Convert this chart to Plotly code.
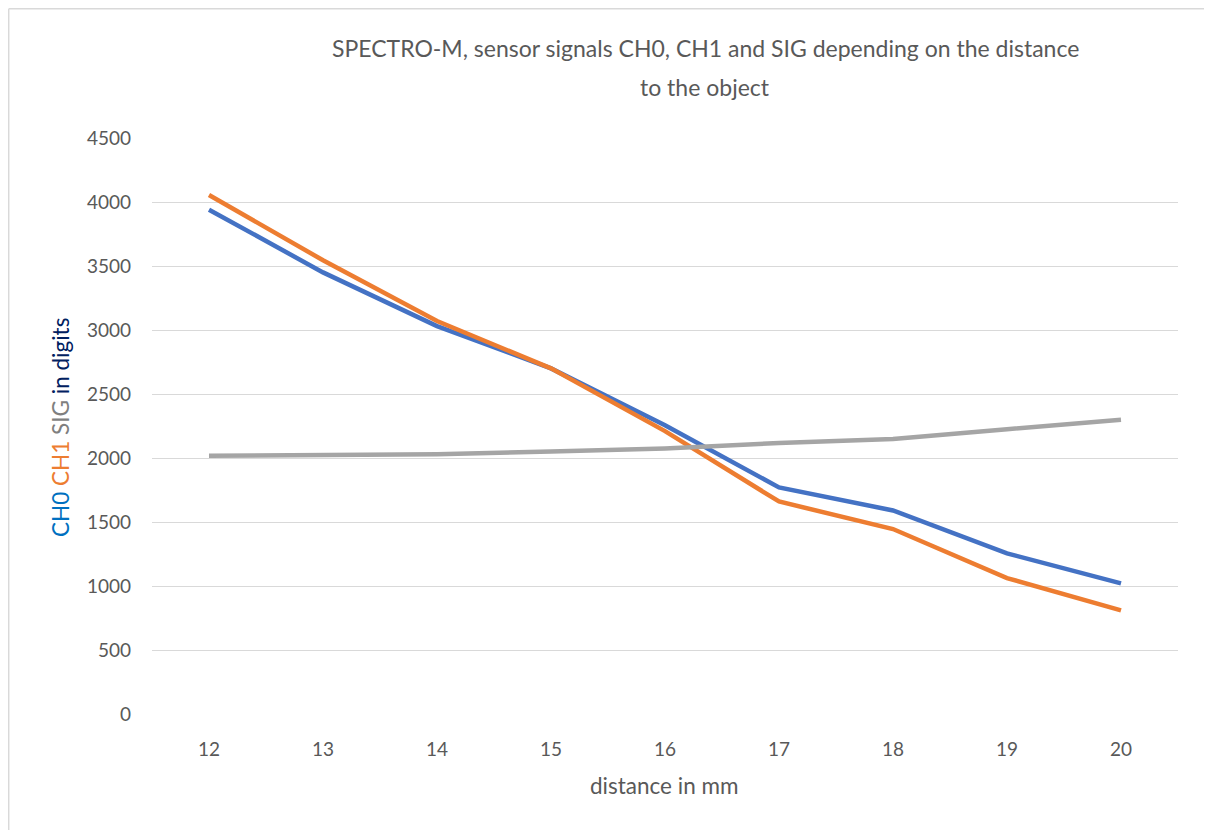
import plotly.graph_objects as go

distance = ["12", "13", "14", "15", "16", "17", "18", "19", "20"]
ch0 = [3940, 3450, 3030, 2700, 2255, 1770, 1590, 1255, 1020]
ch1 = [4055, 3545, 3070, 2700, 2210, 1660, 1445, 1062, 810]
sig = [2018, 2020, 2030, 2050, 2075, 2117, 2148, 2225, 2298]
y_ticks = [0, 500, 1000, 1500, 2000, 2500, 3000, 3500, 4000, 4500]

FONT = "Lato"
OFF = 8  # page body margin
W, H = 1212 - OFF, 830 - OFF
L, R, T, B = 152 - OFF, 1212 - 1178, 138 - OFF, 830 - 714
pw, ph = W - L - R, H - T - B

def px(x):
    return (x - OFF - L) / pw

def py(y):
    return (H - B - (y - OFF)) / ph

fig = go.Figure()
fig.add_trace(go.Scatter(x=distance, y=ch0, mode="lines", name="CH0",
                         line=dict(color="#4472C4", width=4.5)))
fig.add_trace(go.Scatter(x=distance, y=ch1, mode="lines", name="CH1",
                         line=dict(color="#ED7D31", width=4.5)))
fig.add_trace(go.Scatter(x=distance, y=sig, mode="lines", name="SIG",
                         line=dict(color="#A5A5A5", width=4.5)))

fig.update_layout(
    width=W, height=H,
    margin=dict(l=L, r=R, t=T, b=B, autoexpand=False),
    paper_bgcolor="white", plot_bgcolor="white",
    showlegend=False,
    font=dict(family=FONT, color="#595959", size=18),
    xaxis=dict(type="category", range=[-0.5, len(distance) - 0.5],
               showgrid=False, zeroline=False, showline=False, automargin=False,
               ticks="", tickfont=dict(size=19, color="#595959"), ticklabelstandoff=22),
    yaxis=dict(range=[0, 4500], tickvals=y_ticks, showgrid=True, gridcolor="#D9D9D9",
               gridwidth=1.3, zeroline=False, showline=False, ticks="", automargin=False,
               tickfont=dict(size=19, color="#595959"), ticklabelstandoff=20),
)

fig.add_annotation(
    text="SPECTRO-M, sensor signals CH0, CH1 and SIG depending on the distance",
    xref="paper", yref="paper", x=px(705), y=py(48), showarrow=False,
    font=dict(size=23, color="#595959", family=FONT), yanchor="middle",
)
fig.add_annotation(
    text="to the object",
    xref="paper", yref="paper", x=px(705), y=py(87), showarrow=False,
    font=dict(size=23, color="#595959", family=FONT), yanchor="middle",
)

fig.add_annotation(
    text="distance in mm",
    xref="paper", yref="paper", x=px(664), y=py(785), showarrow=False,
    font=dict(size=22.5, color="#595959", family=FONT), yanchor="middle",
)

fig.add_annotation(
    text='<span style="color:#0070C0">CH0 </span><span style="color:#ED7D31">CH1 </span>'
         '<span style="color:#7F7F7F">SIG </span><span style="color:#002060">in digits</span>',
    xref="paper", yref="paper", x=px(60), y=py(428), showarrow=False, textangle=-90,
    font=dict(size=22.5, family=FONT), xanchor="center", yanchor="middle",
)

border = dict(color="#D9D9D9", width=1.5)
fig.add_shape(type="line", xref="paper", yref="paper",
              x0=px(8.7), x1=px(8.7), y0=py(830), y1=py(8.7), line=border, layer="below")
fig.add_shape(type="line", xref="paper", yref="paper",
              x0=px(8.7), x1=px(1205), y0=py(8.7), y1=py(8.7), line=border, layer="below")
fig.add_shape(type="line", xref="paper", yref="paper",
              x0=px(1205), x1=px(1205), y0=py(830), y1=py(8.7), line=border, layer="below")

fig.write_html("out.html")
